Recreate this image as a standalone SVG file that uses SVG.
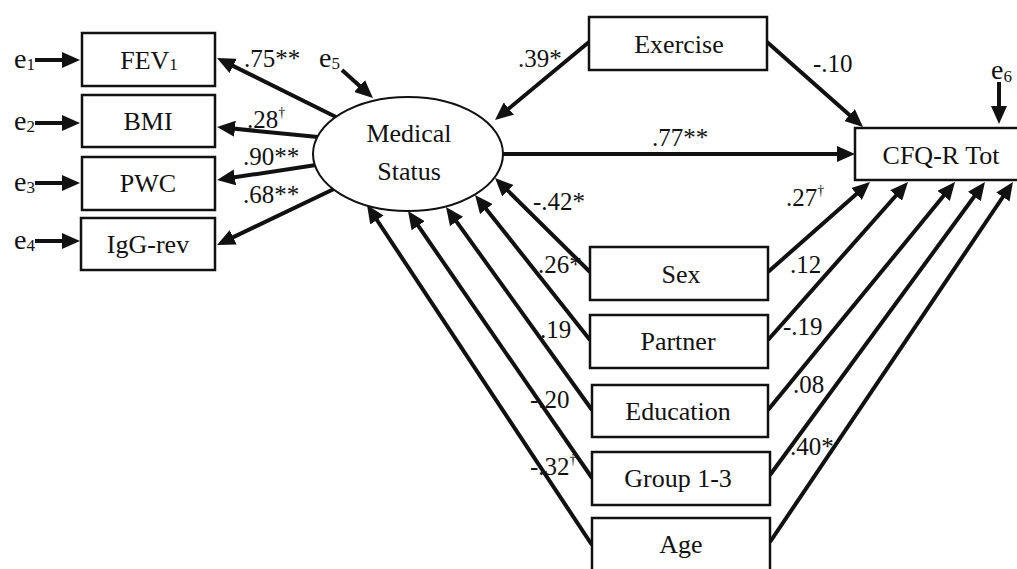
<svg xmlns="http://www.w3.org/2000/svg" width="1017" height="569" viewBox="0 0 1017 569">
<style>
text{font-family:'Liberation Serif','DejaVu Serif',serif;fill:#111}
.nt{font-size:26px;text-anchor:middle}
.lb{font-size:25px}
.sup{font-size:14px}
.e{font-size:28px}
.sub{font-size:17px}
.box{fill:#fff;stroke:#111;stroke-width:2.5}
.ell{fill:#fff;stroke:#111;stroke-width:2}
.c{stroke:#111;stroke-width:4;fill:none;marker-end:url(#ah)}
</style>
<defs>
<marker id="ah" markerUnits="userSpaceOnUse" viewBox="0 0 18 16" markerWidth="18" markerHeight="16" refX="12" refY="8" orient="auto">
<path d="M0,0 L18,8 L0,16 z" fill="#111"/>
</marker>
</defs>
<rect width="1017" height="569" fill="#fff"/>

<g id="connectors">
<line class="c" x1="35" y1="60" x2="74" y2="60"/>
<line class="c" x1="35" y1="123" x2="74" y2="123"/>
<line class="c" x1="35" y1="183" x2="74" y2="183"/>
<line class="c" x1="35" y1="241" x2="74" y2="241"/>
<line class="c" x1="336" y1="117" x2="222.4" y2="60.6"/>
<line class="c" x1="318" y1="137" x2="223" y2="127.6"/>
<line class="c" x1="316" y1="165" x2="223" y2="179.1"/>
<line class="c" x1="336" y1="188" x2="222.4" y2="242.4"/>
<line class="c" x1="342" y1="70" x2="368.5" y2="94"/>
<line class="c" x1="589" y1="42" x2="499.6" y2="116.2"/>
<line class="c" x1="767" y1="42" x2="858.5" y2="123"/>
<line class="c" x1="502" y1="154" x2="849" y2="154"/>
<line class="c" x1="999" y1="82" x2="999" y2="118"/>
<line class="c" x1="590" y1="272" x2="499.3" y2="182.2"/>
<line class="c" x1="590" y1="340" x2="478.8" y2="199.7"/>
<line class="c" x1="592" y1="410" x2="449.5" y2="211.8"/>
<line class="c" x1="592" y1="478" x2="411.4" y2="215.9"/>
<line class="c" x1="592" y1="545" x2="370.3" y2="210"/>
<line class="c" x1="768" y1="272" x2="865.5" y2="186"/>
<line class="c" x1="768" y1="340" x2="904" y2="186.5"/>
<line class="c" x1="768" y1="410" x2="951.2" y2="186.6"/>
<line class="c" x1="770" y1="475" x2="981.4" y2="186.8"/>
<line class="c" x1="770" y1="542" x2="1009.6" y2="187"/>
</g>

<g id="errors">
<text class="e" x="14" y="68">e<tspan class="sub" dy="2">1</tspan></text>
<text class="e" x="14" y="130">e<tspan class="sub" dy="2">2</tspan></text>
<text class="e" x="14" y="191">e<tspan class="sub" dy="2">3</tspan></text>
<text class="e" x="14" y="249">e<tspan class="sub" dy="2">4</tspan></text>
<text class="e" x="319" y="67">e<tspan class="sub" dy="2">5</tspan></text>
<text class="e" x="991" y="79">e<tspan class="sub" dy="3">6</tspan></text>
</g>

<g id="FEV1"><rect class="box" x="82" y="33" width="133" height="53"/><text class="nt" x="149" y="69">FEV<tspan class="sub" dy="1">1</tspan></text></g>
<g id="BMI"><rect class="box" x="82" y="95" width="133" height="52"/><text class="nt" x="148" y="130">BMI</text></g>
<g id="PWC"><rect class="box" x="82" y="157" width="133" height="53"/><text class="nt" x="148" y="192">PWC</text></g>
<g id="IgG-rev"><rect class="box" x="81" y="218" width="134" height="52"/><text class="nt" x="148" y="253">IgG-rev</text></g>

<g id="MedicalStatus"><ellipse class="ell" cx="408" cy="154" rx="95" ry="57"/><text class="nt" x="409" y="142">Medical</text><text class="nt" x="409" y="180">Status</text></g>

<g id="Exercise"><rect class="box" x="589" y="17" width="178" height="53"/><text class="nt" x="679" y="53">Exercise</text></g>
<g id="CFQ-R"><rect class="box" x="855" y="128" width="170" height="52"/><text class="nt" x="941" y="164">CFQ-R Tot</text></g>

<g id="Sex"><rect class="box" x="590" y="247" width="178" height="53"/><text class="nt" x="681" y="283">Sex</text></g>
<g id="Partner"><rect class="box" x="590" y="315" width="178" height="53"/><text class="nt" x="678" y="350">Partner</text></g>
<g id="Education"><rect class="box" x="592" y="385" width="176" height="52"/><text class="nt" x="678" y="420">Education</text></g>
<g id="Group"><rect class="box" x="592" y="452" width="178" height="53"/><text class="nt" x="678" y="487">Group 1-3</text></g>
<g id="Age"><rect class="box" x="592" y="518" width="178" height="60"/><text class="nt" x="681" y="553">Age</text></g>

<g id="labels">
<text class="lb" x="244" y="67">.75**</text>
<text class="lb" x="247" y="128">.28<tspan class="sup" dy="-11">†</tspan></text>
<text class="lb" x="243" y="165">.90**</text>
<text class="lb" x="243" y="203">.68**</text>
<text class="lb" x="518" y="67">.39*</text>
<text class="lb" x="813" y="72">-.10</text>
<text class="lb" x="652" y="146">.77**</text>
<text class="lb" x="533" y="210">-.42*</text>
<text class="lb" x="538" y="273">.26*</text>
<text class="lb" x="540" y="338">.19</text>
<text class="lb" x="530" y="408">-.20</text>
<text class="lb" x="530" y="475">-.32<tspan class="sup" dy="-11">†</tspan></text>
<text class="lb" x="786" y="206">.27<tspan class="sup" dy="-11">†</tspan></text>
<text class="lb" x="790" y="273">.12</text>
<text class="lb" x="783" y="335">-.19</text>
<text class="lb" x="793" y="393">.08</text>
<text class="lb" x="790" y="455">.40*</text>
</g>
</svg>
